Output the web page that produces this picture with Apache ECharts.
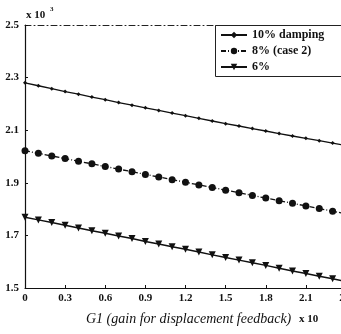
<!DOCTYPE html>
<html><head><meta charset="utf-8">
<script src="https://cdn.jsdelivr.net/npm/echarts@6/dist/echarts.min.js"></script>
<style>html,body{margin:0;padding:0;background:#fff}#c{width:341px;height:334px}</style>
</head><body><div id="c"></div>
<script>
const gains = [0,0.1,0.2,0.3,0.4,0.5,0.6,0.7,0.8,0.9,1.0,1.1,1.2,1.3,1.4,1.5,1.6,1.7,1.8,1.9,2.0,2.1,2.2,2.3,2.4];
const damping10 = [2.280,2.269,2.258,2.247,2.237,2.226,2.216,2.205,2.195,2.185,2.175,2.165,2.155,2.145,2.135,2.125,2.116,2.106,2.097,2.087,2.078,2.069,2.060,2.051,2.042];
const damping8 = [2.022,2.012,2.002,1.992,1.982,1.972,1.962,1.952,1.942,1.932,1.922,1.912,1.902,1.892,1.882,1.872,1.862,1.852,1.842,1.832,1.822,1.812,1.802,1.792,1.782];
const damping6 = [1.769,1.759,1.749,1.739,1.728,1.718,1.708,1.698,1.688,1.677,1.667,1.657,1.647,1.637,1.626,1.616,1.606,1.596,1.586,1.575,1.565,1.555,1.545,1.535,1.524];
const seriesNames = ['10% damping','8% (case 2)','6%'];
const xTicks = [0,0.3,0.6,0.9,1.2,1.5,1.8,2.1,2.4];
const yTicks = [1.5,1.7,1.9,2.1,2.3,2.5];

const pairs = v => gains.map((g,i)=>[g,v[i]]);
const serif = 'Liberation Serif';
const chart = echarts.init(document.getElementById('c'));
chart.setOption({
  animation:false,
  backgroundColor:'#fff',
  grid:{left:25,width:321,top:25,height:263,containLabel:false,outerBoundsMode:'none'},
  xAxis:[{
    type:'value',min:0,max:2.4,interval:0.3,
    axisLine:{show:true,lineStyle:{color:'#111',width:1.2}},
    axisTick:{show:true,inside:true,length:3,lineStyle:{color:'#111'}},
    splitLine:{show:false},
    axisLabel:{color:'#111',fontFamily:serif,fontWeight:'bold',fontSize:11,margin:5,
      formatter:v=>{const t=xTicks.find(x=>Math.abs(x-v)<1e-6);return t===undefined?'':(t===0?'0':t.toFixed(1));}}
  },{
    type:'value',position:'top',min:0,max:2.4,interval:0.3,
    axisLine:{show:true,onZero:false,lineStyle:{color:'#222',width:1,type:[6,3,1,3]}},
    axisTick:{show:false},axisLabel:{show:false},splitLine:{show:false}
  }],
  yAxis:{
    type:'value',min:1.5,max:2.5,interval:0.2,
    axisLine:{show:true,lineStyle:{color:'#111',width:1.2}},
    axisTick:{show:true,inside:true,length:3,lineStyle:{color:'#111'}},
    splitLine:{show:false},
    axisLabel:{color:'#111',fontFamily:serif,fontWeight:'bold',fontSize:11,margin:6,
      formatter:v=>{const t=yTicks.find(y=>Math.abs(y-v)<1e-6);return t===undefined?'':t.toFixed(1);}}
  },
  legend:{
    orient:'vertical',left:220,top:29,itemWidth:26,itemHeight:8,itemGap:4,padding:0,
    data:seriesNames,
    textStyle:{color:'#111',fontFamily:serif,fontWeight:'bold',fontSize:12}
  },
  graphic:[
    {type:'rect',shape:{x:215.5,y:25.5,width:140,height:51},style:{fill:'none',stroke:'#222',lineWidth:1},z:100},
    {type:'text',left:26,top:10,style:{text:'x 10',font:'bold 11px "Liberation Serif"',fill:'#111'}},
    {type:'text',left:50,top:6,style:{text:'3',font:'bold 7px "Liberation Serif"',fill:'#111'}},
    {type:'text',left:86,top:312,style:{text:'G1 (gain for displacement feedback)',font:'italic 14px "Liberation Serif"',fill:'#111'}},
    {type:'text',left:299,top:314,style:{text:'x 10',font:'bold 11px "Liberation Serif"',fill:'#111'}}
  ],
  series:[
    {name:seriesNames[0],type:'line',data:pairs(damping10),symbol:'diamond',symbolSize:4,
      lineStyle:{color:'#111',width:1.3},itemStyle:{color:'#111'}},
    {name:seriesNames[1],type:'line',data:pairs(damping8),symbol:'circle',symbolSize:7,
      lineStyle:{color:'#111',width:1.3,type:[5,2,1,2]},itemStyle:{color:'#111'}},
    {name:seriesNames[2],type:'line',data:pairs(damping6),symbol:'triangle',symbolRotate:180,symbolSize:7,
      lineStyle:{color:'#111',width:1.5},itemStyle:{color:'#111'}}
  ]
});
</script></body></html>
